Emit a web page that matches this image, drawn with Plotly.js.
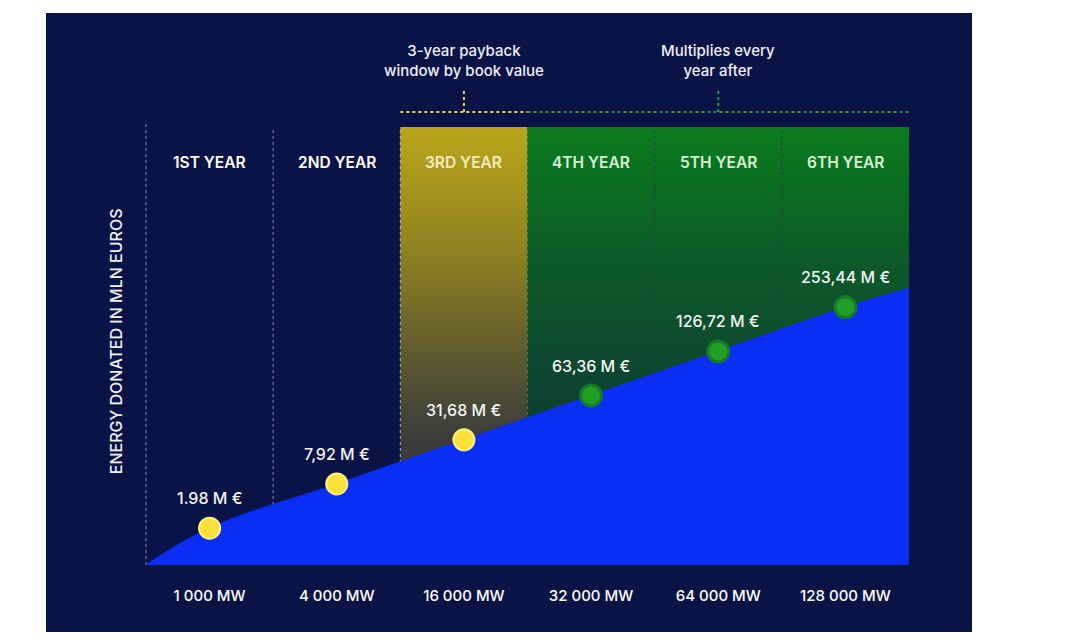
<!DOCTYPE html>
<html><head><meta charset="utf-8">
<script src="https://cdn.plot.ly/plotly-3.0.1.min.js"></script>
<style>
html,body{margin:0;padding:0;background:#fff;width:1065px;height:642px;overflow:hidden}
#chart{position:absolute;left:46px;top:13px;width:926px;height:619px}
</style>
</head><body><div id="chart"></div>
<script>
// ---- data ----
const years = ['1ST YEAR', '2ND YEAR', '3RD YEAR', '4TH YEAR', '5TH YEAR', '6TH YEAR'];
const capacity = ['1 000 MW', '4 000 MW', '16 000 MW', '32 000 MW', '64 000 MW', '128 000 MW'];
const donated = [1.98, 7.92, 31.68, 63.36, 126.72, 253.44];
const donatedLabels = ['1.98 M €', '7,92 M €', '31,68 M €', '63,36 M €', '126,72 M €', '253,44 M €'];
const notes = ['3-year payback<br>window by book value', 'Multiplies every<br>year after'];
const yTitle = 'ENERGY DONATED IN MLN EUROS';

// ---- layout constants (illustrative, evenly stepped scale) ----
const YMIN = -0.833, YMAX = 9.077;
const idx = years.map((_, i) => i);           // step position of each year
const NAVY = '#0a1346', BLUE = '#0b2ef4';
const FONT = 'Inter, "Open Sans", sans-serif';
const payback = 3;                              // first 3 years = payback window

const rect = (a, b) => ({x: [a, b, b, a, a], y: [YMIN, YMIN, YMAX, YMAX, YMIN]});

const traces = [];
// gold column (3rd year)
traces.push(Object.assign(rect(1.5, 2.5), {
  type: 'scatter', mode: 'lines', fill: 'toself', line: {width: 0}, hoverinfo: 'skip',
  fillgradient: {type: 'vertical', start: YMIN, stop: YMAX,
    colorscale: [[0, '#30343f'], [0.285, '#3b3c3a'], [0.377, '#4a4a35'], [0.514, '#65602c'], [0.719, '#8f8220'], [1, '#bba619']]}
}));
// green columns (4th - 6th)
traces.push(Object.assign(rect(2.5, 5.5), {
  type: 'scatter', mode: 'lines', fill: 'toself', line: {width: 0}, hoverinfo: 'skip',
  fillgradient: {type: 'vertical', start: YMIN, stop: YMAX,
    colorscale: [[0, '#0b3236'], [0.42, '#0d4530'], [0.537, '#0c4f2c'], [0.696, '#0c5a28'], [0.833, '#0b6a22'], [1, '#0a7c1d']]}
}));
// dotted separators on coloured columns
const seps = [[1.5, 'rgba(225,215,150,0.75)'], [2.5, 'rgba(110,150,110,0.6)'], [3.5, 'rgba(40,60,80,0.95)'], [4.5, 'rgba(40,60,80,0.95)']];
seps.forEach(([b, c]) => traces.push({
  type: 'scatter', mode: 'lines', x: [b, b], y: [YMIN, YMAX], hoverinfo: 'skip',
  line: {color: c, width: 1, dash: 'dot'}
}));
// baseline + blue area
traces.push({type: 'scatter', mode: 'lines', x: [-0.5, 5.5], y: [YMIN, YMIN], line: {width: 0, color: BLUE}, hoverinfo: 'skip'});
traces.push({
  type: 'scatter', mode: 'lines', x: [-0.5, ...idx, 5.5], y: [YMIN, ...idx, 5.43],
  line: {shape: 'spline', smoothing: 1.2, color: BLUE, width: 1}, fill: 'tonexty', fillcolor: BLUE, hoverinfo: 'skip'
});
// points
traces.push({
  type: 'scatter', mode: 'markers', x: idx, y: idx, customdata: donated, hoverinfo: 'skip',
  marker: {size: 21,
    color: idx.map(i => i < payback ? '#fbe03a' : '#1fa025'),
    line: {width: idx.map(i => i < payback ? 2 : 3), color: idx.map(i => i < payback ? '#fff27e' : '#177a2a')}}
});

const annotations = [];
idx.forEach(i => {
  annotations.push({x: i, y: i, yshift: 30, text: donatedLabels[i], showarrow: false, yanchor: 'middle',
    font: {family: FONT, size: 16, color: '#f5f5f5', weight: 500}});
  annotations.push({x: i, y: 0.92, yref: 'paper', yanchor: 'middle', text: years[i], showarrow: false,
    font: {family: FONT, size: 15.5, weight: 600, color: i < 2 ? '#ffffff' : (i === 2 ? '#f4ecc0' : '#d8f2d6')}});
});
annotations.push({x: 2, y: 1.151, yref: 'paper', yanchor: 'middle', text: notes[0], showarrow: false,
  font: {family: FONT, size: 15, weight: 500, color: '#eef0f6'}});
annotations.push({x: 4, y: 1.151, yref: 'paper', yanchor: 'middle', text: notes[1], showarrow: false,
  font: {family: FONT, size: 15, weight: 500, color: '#eef0f6'}});
annotations.push({x: -0.0393, xref: 'paper', y: 0.511, yref: 'paper', text: yTitle, textangle: -90, showarrow: false,
  xanchor: 'center', yanchor: 'middle',
  font: {family: FONT, size: 16, weight: 500, color: '#f0f2f8'}});

const px = b => (b + 0.5) / 6;
const shapes = [
  {type: 'line', layer: 'below', xref: 'paper', yref: 'paper', x0: px(-0.5), x1: px(-0.5), y0: 0, y1: 1.011, line: {color: 'rgba(170,175,205,0.8)', width: 1, dash: 'dot'}},
  {type: 'line', layer: 'below', xref: 'paper', yref: 'paper', x0: px(0.5), x1: px(0.5), y0: 0, y1: 1.0, line: {color: 'rgba(170,175,205,0.8)', width: 1, dash: 'dot'}},
  {type: 'line', xref: 'paper', yref: 'paper', x0: px(1.5), x1: px(2.5), y0: 1.034, y1: 1.034, line: {color: '#e6d64a', width: 2, dash: 'dot'}},
  {type: 'line', xref: 'paper', yref: 'paper', x0: px(2.5), x1: px(5.5), y0: 1.034, y1: 1.034, line: {color: '#2f9a45', width: 2, dash: 'dot'}},
  {type: 'line', xref: 'paper', yref: 'paper', x0: px(2), x1: px(2), y0: 1.034, y1: 1.084, line: {color: '#e6d64a', width: 2, dash: 'dot'}},
  {type: 'line', xref: 'paper', yref: 'paper', x0: px(4), x1: px(4), y0: 1.034, y1: 1.084, line: {color: '#2f9a45', width: 2, dash: 'dot'}}
];

const layout = {
  width: 926, height: 619,
  margin: {l: 100, r: 63, t: 114, b: 67},
  paper_bgcolor: NAVY, plot_bgcolor: NAVY,
  showlegend: false,
  xaxis: {range: [-0.5, 5.5], tickvals: idx, ticktext: capacity, showgrid: false, zeroline: false,
    showline: false, ticks: '', ticklabelstandoff: 20,
    tickfont: {family: FONT, size: 15, weight: 500, color: '#ffffff'}, fixedrange: true},
  yaxis: {range: [YMIN, YMAX], visible: false, fixedrange: true},
  annotations, shapes
};
Plotly.newPlot('chart', traces, layout, {displayModeBar: false, staticPlot: true});
</script>
</body></html>
